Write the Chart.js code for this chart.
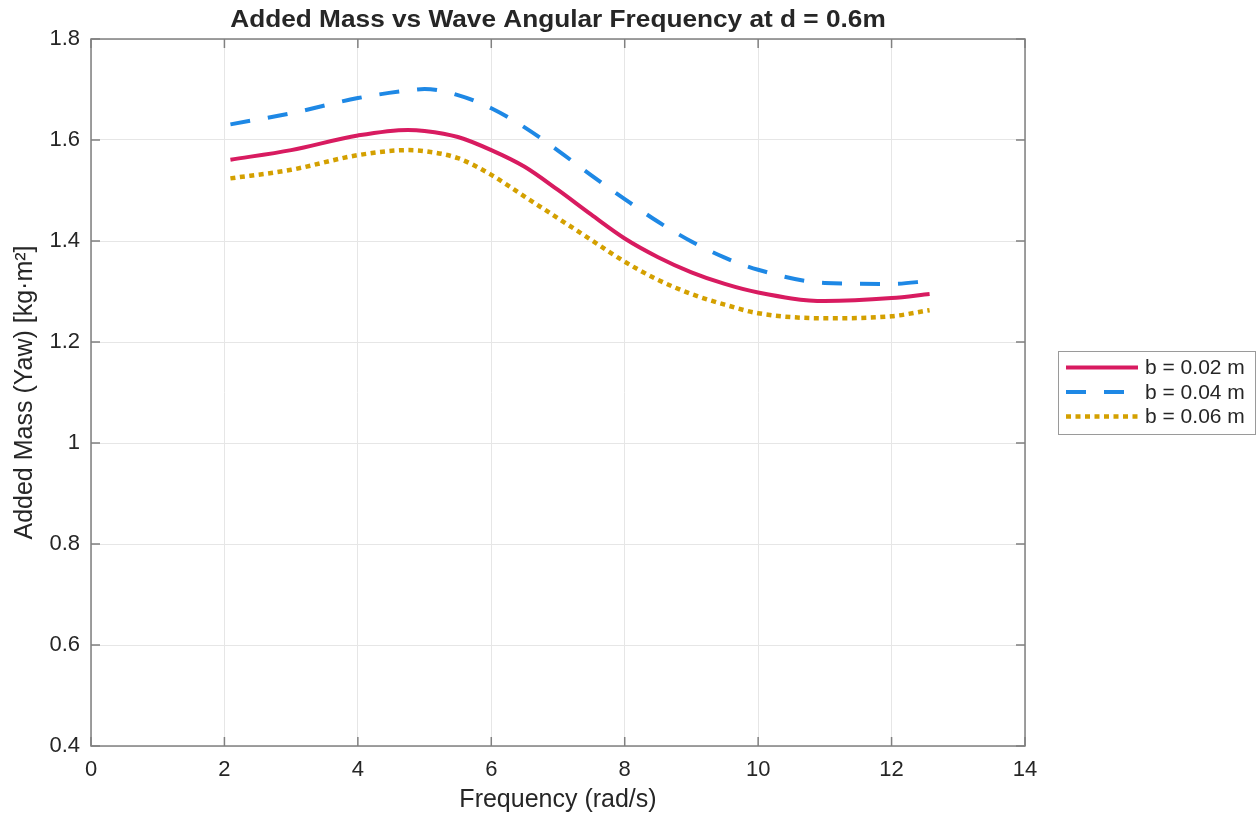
<!DOCTYPE html>
<html>
<head>
<meta charset="utf-8">
<script src="https://cdn.jsdelivr.net/npm/chart.js@4/dist/chart.umd.min.js"></script>
<style>
  html, body { margin: 0; padding: 0; background: #fff; }
  #wrap { width: 1257px; height: 820px; }
</style>
</head>
<body>
<div id="wrap"><canvas id="c" width="1257" height="820"></canvas></div>
<script>
'use strict';

// ── Data ──────────────────────────────────────────────────────────────────────

const freq     = [2.09,  3,     4,     4.75,  5,     5.5,   6,     6.5,   7,     7.5,   8,     8.5,   9,     9.5,   10,    11,    12,    12.57];
const massB002 = [1.561, 1.580, 1.609, 1.620, 1.618, 1.606, 1.580, 1.547, 1.501, 1.452, 1.405, 1.368, 1.338, 1.315, 1.298, 1.281, 1.287, 1.295];
const massB004 = [1.631, 1.653, 1.683, 1.698, 1.701, 1.689, 1.663, 1.625, 1.579, 1.530, 1.483, 1.438, 1.399, 1.367, 1.343, 1.317, 1.315, 1.321];
const massB006 = [1.524, 1.541, 1.570, 1.580, 1.578, 1.564, 1.531, 1.488, 1.445, 1.402, 1.359, 1.323, 1.295, 1.274, 1.257, 1.247, 1.251, 1.263];
const seriesLabels = ['b = 0.02 m', 'b = 0.04 m', 'b = 0.06 m'];
const xTicks = [0, 2, 4, 6, 8, 10, 12, 14];
const yTicks = [0.4, 0.6, 0.8, 1, 1.2, 1.4, 1.6, 1.8];

const TITLE = 'Added Mass vs Wave Angular Frequency at d = 0.6m';
const TEXT = '#262626';
const AXIS = '#808080';
const GRID = '#e6e6e6';
const FONT = "'Liberation Sans', Arial, sans-serif";

const pts = ys => freq.map((x, i) => ({ x, y: ys[i] }));

// ── Plugin: title, box, inner ticks, legend ───────────────────────────────────

const matlabLook = {
  id: 'matlabLook',
  afterDraw(chart) {
    const { ctx, chartArea: a, scales } = chart;
    ctx.save();

    // title (the original render is a bit wider than the font, so stretch it)
    ctx.save();
    ctx.fillStyle = TEXT;
    ctx.font = `bold 23px ${FONT}`;
    ctx.textAlign = 'center';
    ctx.textBaseline = 'middle';
    ctx.translate((a.left + a.right) / 2, 21);
    ctx.scale(1.14, 1);
    ctx.fillText(TITLE, 0, 0);
    ctx.restore();

    // box
    ctx.strokeStyle = AXIS;
    ctx.lineWidth = 1.5;
    ctx.strokeRect(a.left, a.top, a.right - a.left, a.bottom - a.top);

    // inner ticks
    const tl = 9;
    ctx.beginPath();
    xTicks.forEach(v => {
      const px = scales.x.getPixelForValue(v);
      ctx.moveTo(px, a.bottom); ctx.lineTo(px, a.bottom - tl);
      ctx.moveTo(px, a.top); ctx.lineTo(px, a.top + tl);
    });
    yTicks.forEach(v => {
      const py = scales.y.getPixelForValue(v);
      ctx.moveTo(a.left, py); ctx.lineTo(a.left + tl, py);
      ctx.moveTo(a.right, py); ctx.lineTo(a.right - tl, py);
    });
    ctx.stroke();

    // legend
    const lx = 1058, ly = 351, lw = 197, lh = 83;
    ctx.fillStyle = '#fff';
    ctx.fillRect(lx, ly, lw, lh);
    ctx.strokeStyle = '#9a9a9a';
    ctx.lineWidth = 1;
    ctx.strokeRect(lx + 0.5, ly + 0.5, lw, lh);
    ctx.font = `21px ${FONT}`;
    ctx.textAlign = 'left';
    ctx.textBaseline = 'middle';
    chart.data.datasets.forEach((ds, i) => {
      const y = ly + 16.5 + i * 24.5;
      ctx.save();
      ctx.strokeStyle = ds.borderColor;
      ctx.lineWidth = ds.borderWidth;
      ctx.setLineDash(ds.borderDash || []);
      ctx.beginPath();
      ctx.moveTo(lx + 8, y);
      ctx.lineTo(lx + 80, y);
      ctx.stroke();
      ctx.restore();
      ctx.fillStyle = TEXT;
      ctx.fillText(ds.label, lx + 87, y + 1);
    });

    ctx.restore();
  }
};

// ── Chart ─────────────────────────────────────────────────────────────────────

const ctx = document.getElementById('c').getContext('2d');
new Chart(ctx, {
  type: 'line',
  data: {
    datasets: [
      { label: seriesLabels[0], data: pts(massB002), borderColor: '#d81b60', borderWidth: 4 },
      { label: seriesLabels[1], data: pts(massB004), borderColor: '#1e88e5', borderWidth: 4, borderDash: [20, 18] },
      { label: seriesLabels[2], data: pts(massB006), borderColor: '#d4a000', borderWidth: 4.5, borderDash: [5, 4.5] },
    ].map(d => ({ ...d, pointRadius: 0, fill: false, cubicInterpolationMode: 'monotone', borderCapStyle: 'butt' })),
  },
  options: {
    responsive: false,
    animation: false,
    layout: { padding: { left: 0, right: 232, top: 39, bottom: 0 } },
    plugins: { legend: { display: false }, tooltip: { enabled: false } },
    scales: {
      x: {
        type: 'linear', min: 0, max: 14,
        afterBuildTicks: s => { s.ticks = xTicks.map(value => ({ value })); },
        afterFit: s => { s.height = 74; },
        grid: { color: GRID, lineWidth: 1, drawTicks: false },
        border: { display: false },
        ticks: { color: TEXT, font: { family: FONT, size: 22 }, padding: 11 },
        title: { display: true, text: 'Frequency (rad/s)', color: TEXT, font: { family: FONT, size: 25 }, padding: { top: 0, bottom: 5 } },
      },
      y: {
        type: 'linear', min: 0.4, max: 1.8,
        afterBuildTicks: s => { s.ticks = yTicks.map(value => ({ value })); },
        afterFit: s => { s.width = 91; },
        grid: { color: GRID, lineWidth: 1, drawTicks: false },
        border: { display: false },
        ticks: { color: TEXT, font: { family: FONT, size: 22 }, padding: 11, callback: v => String(v) },
        title: { display: true, text: 'Added Mass (Yaw) [kg·m²]', color: TEXT, font: { family: FONT, size: 25 }, padding: { top: 10, bottom: 0 } },
      },
    },
  },
  plugins: [matlabLook],
});
</script>
</body>
</html>
